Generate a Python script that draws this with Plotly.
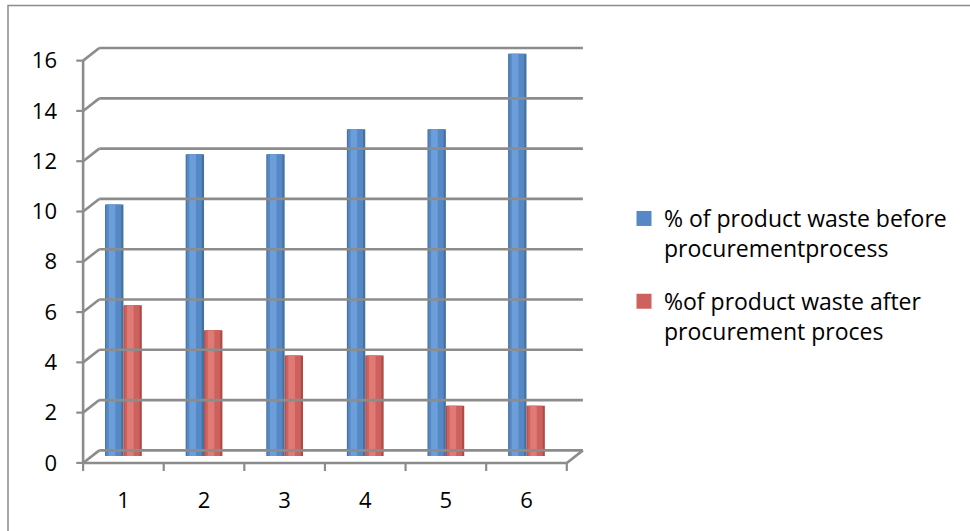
import plotly.graph_objects as go

# ---- data ----
categories = [1, 2, 3, 4, 5, 6]
waste_before = [10, 12, 12, 13, 13, 16]
waste_after = [6, 5, 4, 4, 2, 2]
series_names = ["% of product waste before<br>procurementprocess",
                "%of product waste after<br>procurement proces"]
y_ticks = [0, 2, 4, 6, 8, 10, 12, 14, 16]

# ---- styling / geometry ----
W, H = 970, 531
M_L, M_R, M_T, M_B = 67, 375, 38, 58
X_RANGE = [0.3, 6.85]
Y_RANGE = [-0.4, 16.9]
DEPTH_X, DEPTH_Y = 0.2, 0.5        # oblique offset of the back wall (data units)
BAR_LIFT = DEPTH_Y * 0.55          # bars stand half way into the floor
GRID = "#8c8c8c"
BLUE = ["#44729f", "#5588c4", "#6c9fd9"]
RED = ["#b04a46", "#cd615d", "#df7a75"]

x_lo = categories[0] - 0.5
x_hi = categories[-1] + 0.5

fig = go.Figure()


def seg(xs, ys, width=2.6, color=GRID):
    fig.add_trace(go.Scatter(x=xs, y=ys, mode="lines", hoverinfo="skip",
                             showlegend=False,
                             line=dict(color=color, width=width)))


# back wall gridlines and the side-wall diagonals
for v in y_ticks:
    seg([x_lo + DEPTH_X, x_hi + DEPTH_X], [v + DEPTH_Y, v + DEPTH_Y])
    seg([x_lo, x_lo + DEPTH_X], [v, v + DEPTH_Y])
# floor right edge
seg([x_hi, x_hi + DEPTH_X], [0, DEPTH_Y])
# front axes
seg([x_lo, x_lo], [0, y_ticks[-1]])
seg([x_lo, x_hi], [0, 0])
# tick marks
for v in y_ticks:
    seg([x_lo - 0.085, x_lo], [v, v], width=2.2)
for c in range(len(categories) + 1):
    seg([x_lo + c, x_lo + c], [0, -0.32], width=2.2)

# cylinder-like bars: darker rim, mid tone body, light highlight strip
BAR_W = 0.228


def cylinder(values, side, shades):
    off = -BAR_W if side == 0 else 0.0
    layers = [(BAR_W, 0.0, shades[0]),
              (BAR_W * 0.82, BAR_W * 0.06, shades[1]),
              (BAR_W * 0.36, BAR_W * 0.2, shades[2])]
    for w, shift, col in layers:
        fig.add_trace(go.Bar(x=categories, y=values, base=BAR_LIFT,
                             width=w, offset=off + shift,
                             marker=dict(color=col, line=dict(width=0)),
                             showlegend=False, hoverinfo="skip"))


cylinder(waste_before, 0, BLUE)
cylinder(waste_after, 1, RED)

# legend entries
for name, col, grp in [(series_names[0], BLUE[1], "a"),
                       (series_names[1], RED[1], "b")]:
    fig.add_trace(go.Scatter(x=[None], y=[None], mode="markers", name=name,
                             legendgroup=grp,
                             marker=dict(symbol="square", size=15, color=col)))

pw = W - M_L - M_R
ph = H - M_T - M_B

fig.update_layout(
    width=W, height=H,
    margin=dict(l=M_L, r=M_R, t=M_T, b=M_B),
    paper_bgcolor="white", plot_bgcolor="white",
    barmode="overlay",
    font=dict(family="Open Sans", size=22, color="#000000"),
    xaxis=dict(range=X_RANGE, showgrid=False, zeroline=False, showline=False,
               tickmode="array", tickvals=categories,
               ticktext=[str(c) for c in categories],
               ticks="", ticklabelstandoff=12, fixedrange=True),
    yaxis=dict(range=Y_RANGE, showgrid=False, zeroline=False, showline=False,
               tickmode="array", tickvals=y_ticks,
               ticktext=[str(v) for v in y_ticks],
               ticks="", ticklabelstandoff=9, fixedrange=True),
    legend=dict(x=(624 - M_L) / pw, y=1 - (197 - M_T) / ph,
                xanchor="left", yanchor="top",
                valign="top", traceorder="grouped", tracegroupgap=20,
                font=dict(family="Open Sans", size=23, color="#000000"),
                itemwidth=30, bgcolor="rgba(0,0,0,0)"),
    shapes=[dict(type="rect", xref="paper", yref="paper",
                 x0=(8 - M_L) / pw, x1=(975 - M_L) / pw,
                 y0=-(540 - H + M_B) / ph, y1=1 + (M_T - 5.5) / ph,
                 line=dict(color="#8a8a8a", width=1.5), layer="below")],
)

fig.write_html("out.html")
